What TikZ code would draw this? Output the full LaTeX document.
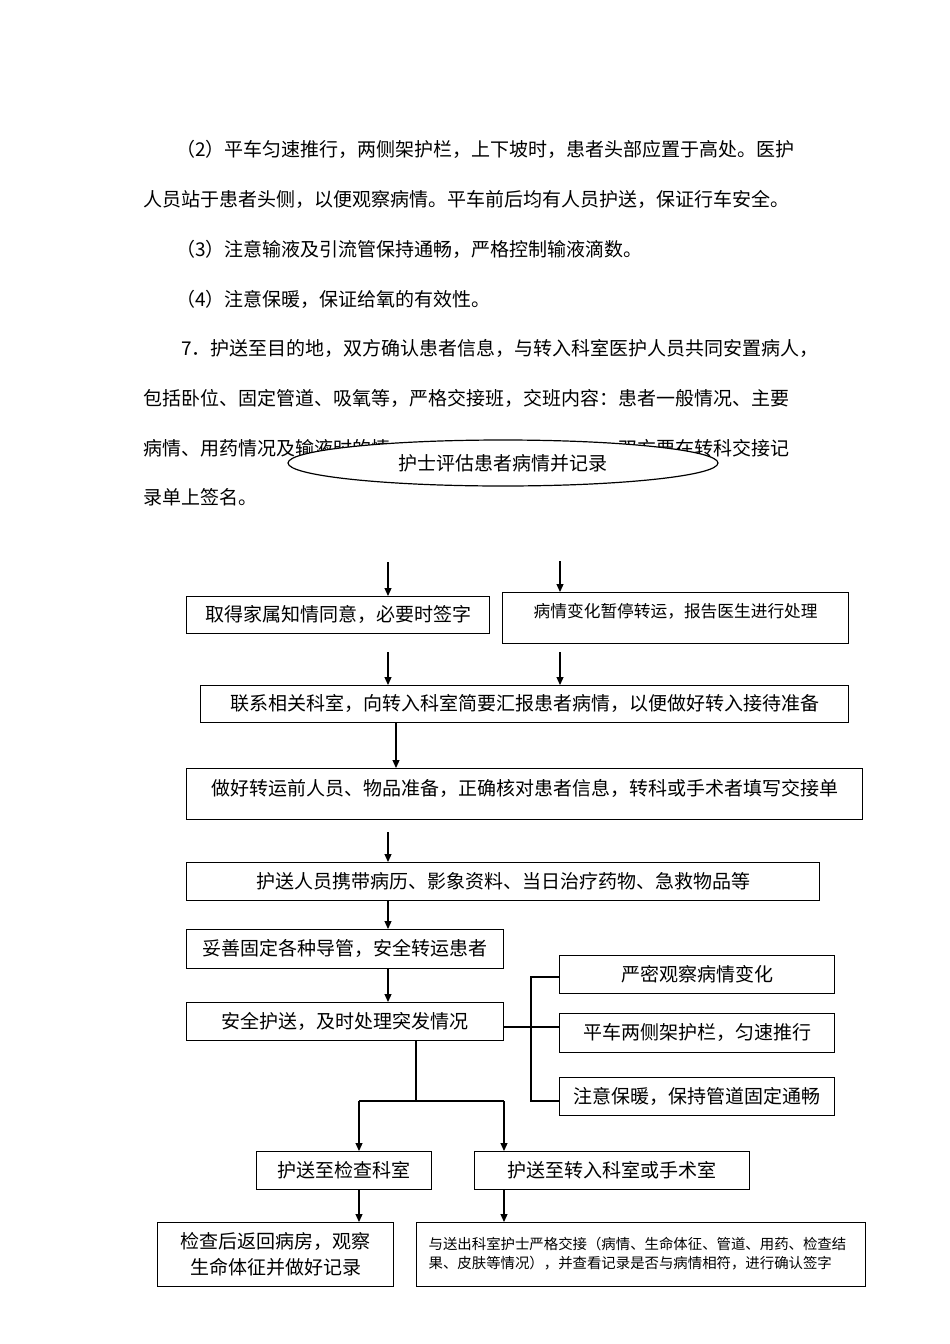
\documentclass[tikz,border=0pt]{standalone}
\usepackage{fontspec}
\setmainfont{Noto Sans CJK SC}
\usepackage{tikz}
\usetikzlibrary{shapes.geometric, arrows.meta, positioning, calc}

\tikzset{
  para/.style={anchor=west, inner sep=0pt, font=\fontsize{19}{19}\selectfont, text height=16pt, text depth=3pt},
  flowbox/.style={draw, line width=1.3pt, anchor=north west, inner sep=0pt, font=\fontsize{19}{19}\selectfont, text height=16pt, text depth=3pt},
  flowline/.style={line width=1.2pt},
  flowarrow/.style={line width=1.2pt, -{Triangle[length=8pt,width=7pt]}},
}

\begin{document}
\begin{tikzpicture}[x=1pt, y=-1pt]
\useasboundingbox (0,0) rectangle (950,1344);

% Paragraph above the chart
\node[para] (p1) at (176,150) {（2）平车匀速推行，两侧架护栏，上下坡时，患者头部应置于高处。医护};
\node[para] (p2) at (143,200) {人员站于患者头侧，以便观察病情。平车前后均有人员护送，保证行车安全。};
\node[para] (p3) at (176,250) {（3）注意输液及引流管保持通畅，严格控制输液滴数。};
\node[para] (p4) at (176,300) {（4）注意保暖，保证给氧的有效性。};
\node[para] (p5) at (181,349) {7．护送至目的地，双方确认患者信息，与转入科室医护人员共同安置病人，};
\node[para] (p6) at (143,399) {包括卧位、固定管道、吸氧等，严格交接班，交班内容：患者一般情况、主要};
\node[para] (p7a) at (143,449) {病情、用药情况及输液时的情};
\node[para] (p7b) at (618,449) {双方要在转科交接记};
\node[para] (p8) at (143,498) {录单上签名。};

% Start
\node[draw, ellipse, fill=white, line width=1.2pt, minimum width=430pt, minimum height=46pt, inner sep=0pt,
      font=\fontsize{19}{19}\selectfont] (assess) at (503,463) {护士评估患者病情并记录};

% First row
\node[flowbox, minimum width=303pt, minimum height=37pt] (consent) at (186,596) {取得家属知情同意，必要时签字};
\node[flowbox, minimum width=346pt, minimum height=51pt, font=\fontsize{16.7}{17}\selectfont,
      text height=14pt, text depth=15pt] (pause) at (502,592) {病情变化暂停转运，报告医生进行处理};
\coordinate (in1) at (388,562);
\coordinate (in2) at (560,561);
\draw[flowarrow] (in1) -- (in1 |- consent.north);
\draw[flowarrow] (in2) -- (in2 |- pause.north);

% Contact
\node[flowbox, minimum width=648pt, minimum height=37pt] (contact) at (200,685) {联系相关科室，向转入科室简要汇报患者病情，以便做好转入接待准备};
\coordinate (in3) at (388,652);
\coordinate (in4) at (560,652);
\draw[flowarrow] (in3) -- (in3 |- contact.north);
\draw[flowarrow] (in4) -- (in4 |- contact.north);

% Preparation
\node[flowbox, minimum width=676pt, minimum height=51pt, text depth=14pt] (prepare) at (186,768) {做好转运前人员、物品准备，正确核对患者信息，转科或手术者填写交接单};
\draw[flowarrow] (396,0 |- contact.south) -- (396,0 |- prepare.north);

% Carry and fix
\node[flowbox, minimum width=633pt, minimum height=38pt] (carry) at (186,862) {护送人员携带病历、影象资料、当日治疗药物、急救物品等};
\coordinate (in5) at (388,832);
\draw[flowarrow] (in5) -- (in5 |- carry.north);
\node[flowbox, minimum width=317pt, minimum height=39pt] (fix) at (186,929) {妥善固定各种导管，安全转运患者};
\draw[flowarrow] (388,0 |- carry.south) -- (388,0 |- fix.north);
\node[flowbox, minimum width=317pt, minimum height=38pt] (escort) at (186,1002) {安全护送，及时处理突发情况};
\draw[flowarrow] (388,0 |- fix.south) -- (388,0 |- escort.north);

% Side notes
\node[flowbox, minimum width=275pt, minimum height=38pt] (observe) at (559,955) {严密观察病情变化};
\node[flowbox, minimum width=275pt, minimum height=39pt] (rails) at (559,1013) {平车两侧架护栏，匀速推行};
\node[flowbox, minimum width=275pt, minimum height=38pt] (warm) at (559,1077) {注意保暖，保持管道固定通畅};
\coordinate (railtop) at (531,977);
\coordinate (railbot) at (531,1101);
\draw[flowline] (railtop -| observe.west) -- (railtop) -- (railbot) -- (railbot -| warm.west);
\draw[flowline] (escort.east |- 0,1027) -- (rails.west |- 0,1027);

% Split
\coordinate (split) at (416,1101);
\coordinate (splitl) at (359,1101);
\coordinate (splitr) at (504,1101);
\node[flowbox, minimum width=175pt, minimum height=38pt] (exam) at (256,1151) {护送至检查科室};
\node[flowbox, minimum width=275pt, minimum height=38pt] (ward) at (474,1151) {护送至转入科室或手术室};
\draw[flowline] (split |- escort.south) -- (split);
\draw[flowline] (splitl) -- (splitr);
\draw[flowarrow] (splitl) -- (splitl |- exam.north);
\draw[flowarrow] (splitr) -- (splitr |- ward.north);

% Ends
\node[flowbox, minimum width=236pt, minimum height=64pt, align=center, font=\fontsize{19}{26}\selectfont,
      text height=, text depth=] (back) at (157,1222) {检查后返回病房，观察\\生命体征并做好记录};
\node[flowbox, minimum width=449pt, minimum height=64pt, text width=425pt, inner xsep=12pt, align=left,
      font=\fontsize{14.4}{19}\selectfont, text height=, text depth=] (handover) at (416,1222)
      {与送出科室护士严格交接（病情、生命体征、管道、用药、检查结\\果、皮肤等情况），并查看记录是否与病情相符，进行确认签字\vphantom{g}\\[-3pt]};
\draw[flowarrow] (splitl |- exam.south) -- (splitl |- back.north);
\draw[flowarrow] (splitr |- ward.south) -- (splitr |- handover.north);
\end{tikzpicture}
\end{document}
